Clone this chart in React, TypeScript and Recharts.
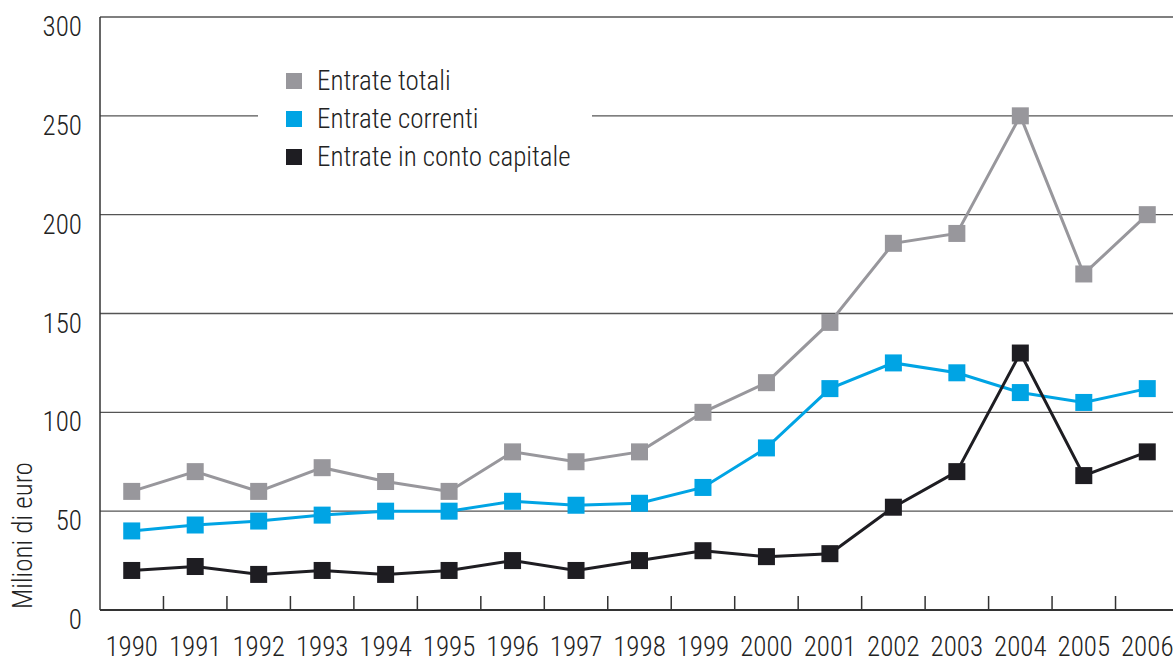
import { LineChart, Line, XAxis, YAxis, CartesianGrid, Legend, Label } from 'recharts';

const years = ['1990', '1991', '1992', '1993', '1994', '1995', '1996', '1997', '1998', '1999', '2000', '2001', '2002', '2003', '2004', '2005', '2006'];
const entrateTotali = [60, 70, 60, 72, 65, 60, 80, 75, 80, 100, 115, 145.5, 185.5, 190.5, 250, 170, 200];
const entrateCorrenti = [40, 43, 45, 48, 50, 50, 55, 53, 54, 62, 82, 112, 125, 120, 110, 105, 112];
const entrateCapitale = [20, 22, 18, 20, 18, 20, 25, 20, 25, 30, 27, 28.5, 52, 70, 130, 68, 80];
const yTicks = [0, 50, 100, 150, 200, 250, 300];

const seriesInfo = [
    { key: 'totali', name: 'Entrate totali', color: '#98979c' },
    { key: 'correnti', name: 'Entrate correnti', color: '#00a4e4' },
    { key: 'capitale', name: 'Entrate in conto capitale', color: '#1e1d22' },
];

const data = years.map((year, i) => ({
    year,
    totali: entrateTotali[i],
    correnti: entrateCorrenti[i],
    capitale: entrateCapitale[i],
}));

const FONT = '"Roboto Condensed", "Liberation Sans Narrow", Roboto, sans-serif';
const CHART_W = 1179;
const CHART_H = 659;
const PLOT_LEFT = 100;
const STEP = (CHART_W - PLOT_LEFT) / years.length;

const Square = (props: any) => {
    const { cx, cy, stroke } = props;
    if (cx == null || cy == null) return null;
    return <rect x={cx - 8.5} y={cy - 8.5} width={17} height={17} fill={stroke} />;
};

const XTick = (props: any) => {
    const { x, y, payload } = props;
    const left = x - STEP / 2;
    return (
        <g>
            {payload.index > 0 && <line x1={left} x2={left} y1={y} y2={y - 14} stroke="#333" strokeWidth={1.5} />}
            <text x={x} y={y + 46} textAnchor="middle" fill="#222" fontSize={27} fontWeight={300} fontFamily={FONT}>
                {payload.value}
            </text>
        </g>
    );
};

const YTick = (props: any) => {
    const { y, payload } = props;
    return (
        <text x={82} y={y + 19} textAnchor="end" fill="#222" fontSize={27} fontWeight={300} fontFamily={FONT}>
            {payload.value}
        </text>
    );
};

const LegendBox = () => (
    <div style={{ background: '#fff', padding: '2px 0 8px 28px', fontFamily: FONT }}>
        {seriesInfo.map(s => (
            <div key={s.key} style={{ display: 'flex', alignItems: 'center', height: 38 }}>
                <span style={{ display: 'inline-block', width: 16, height: 16, background: s.color, marginRight: 15 }} />
                <span style={{ fontSize: 27, fontWeight: 300, color: '#222' }}>{s.name}</span>
            </div>
        ))}
    </div>
);

const App = () => {
    return (
        <div style={{ position: 'absolute', left: 0, top: 0, width: 1173, height: CHART_H, overflow: 'hidden', background: '#fff' }}>
            <LineChart width={CHART_W} height={CHART_H} data={data} margin={{ top: 17, right: 0, bottom: 0, left: 0 }}>
                <CartesianGrid vertical={false} stroke="#555" strokeWidth={1.3} />
                <XAxis
                    dataKey="year"
                    height={49}
                    padding={{ left: STEP / 2, right: STEP / 2 }}
                    axisLine={{ stroke: '#333', strokeWidth: 2 }}
                    tickLine={false}
                    tickSize={0}
                    tickMargin={0}
                    tick={<XTick />}
                    interval={0}
                />
                <YAxis
                    width={100}
                    domain={[0, 300]}
                    ticks={yTicks}
                    axisLine={{ stroke: '#333', strokeWidth: 1.5 }}
                    tickLine={false}
                    tick={<YTick />}
                >
                    <Label
                        content={() => (
                            <text
                                x={0}
                                y={0}
                                transform="translate(32 609) rotate(-90)"
                                fill="#222"
                                fontSize={27}
                                fontWeight={300}
                                fontFamily={FONT}
                            >
                                Milioni di euro
                            </text>
                        )}
                    />
                </YAxis>
                <Legend
                    layout="horizontal"
                    verticalAlign="middle"
                    align="center"
                    content={<LegendBox />}
                    wrapperStyle={{ position: 'absolute', left: 258, top: 60, width: 334, height: 'auto' }}
                />
                {seriesInfo.map(s => (
                    <Line
                        key={s.key}
                        type="linear"
                        dataKey={s.key}
                        name={s.name}
                        stroke={s.color}
                        strokeWidth={3}
                        dot={<Square />}
                        activeDot={false}
                        isAnimationActive={false}
                    />
                ))}
            </LineChart>
        </div>
    );
};

export default App;
